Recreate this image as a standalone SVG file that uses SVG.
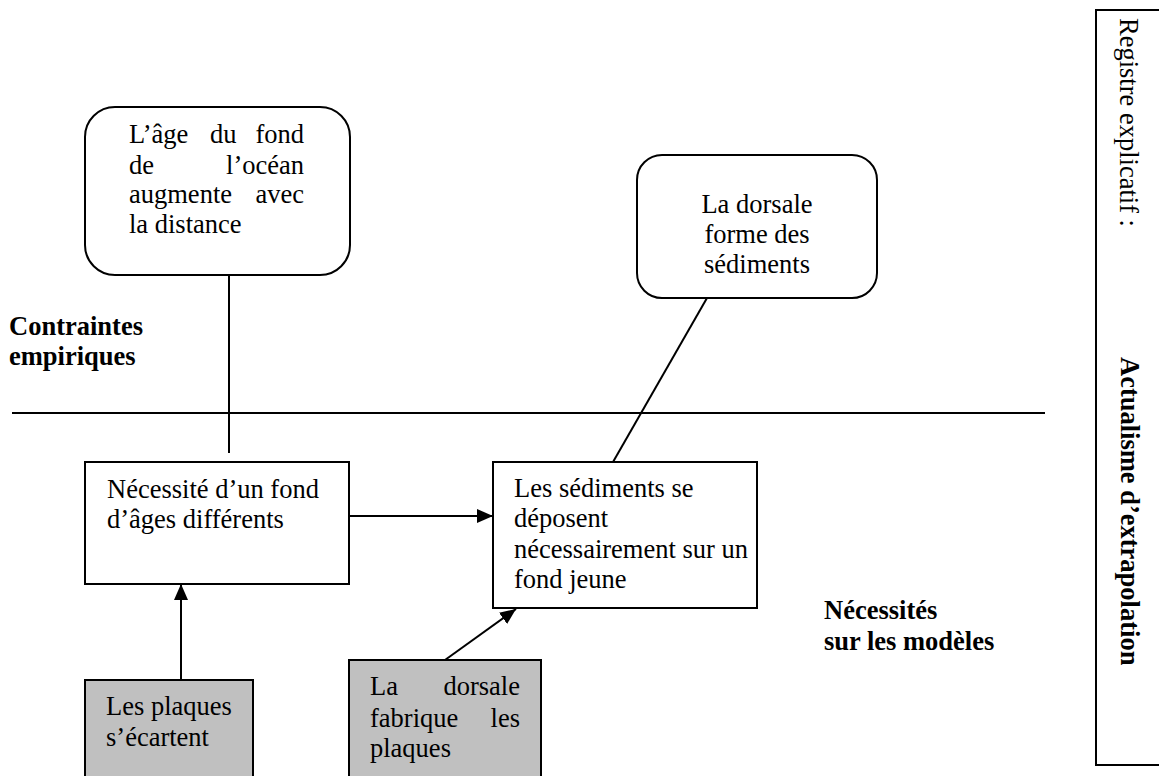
<svg xmlns="http://www.w3.org/2000/svg" width="1159" height="776" viewBox="0 0 1159 776">
  <style>
    .txt { font-family: "Liberation Serif", "Times New Roman", serif; font-size: 26.5px; fill: #000; }
    .bold { font-weight: bold; }
    .box { fill: #fff; stroke: #000; stroke-width: 2; }
    .grey { fill: #c0c0c0; stroke: #000; stroke-width: 2; }
    .link { stroke: #000; stroke-width: 2; fill: none; }
    .end { text-anchor: end; }
    .mid { text-anchor: middle; }
  </style>
  <defs>
    <marker id="arrow" viewBox="0 0 16 14" refX="16" refY="7" markerWidth="16" markerHeight="14" markerUnits="userSpaceOnUse" orient="auto">
      <path d="M0,0 L16,7 L0,14 Z" fill="#000"/>
    </marker>
  </defs>

  <rect width="1159" height="776" fill="#fff"/>

  <!-- separator between empirical constraints and model requirements -->
  <line x1="12" y1="413" x2="1045" y2="413" class="link"/>

  <!-- section labels -->
  <g id="label-contraintes">
    <text class="txt bold" x="9" y="335">Contraintes</text>
    <text class="txt bold" x="9" y="365">empiriques</text>
  </g>
  <g id="label-necessites">
    <text class="txt bold" x="824" y="619">Nécessités</text>
    <text class="txt bold" x="824" y="650">sur les modèles</text>
  </g>

  <!-- side register panel -->
  <g id="registre">
    <rect x="1096" y="10" width="70" height="755" fill="none" stroke="#000" stroke-width="2"/>
    <text class="txt" transform="translate(1120,18) rotate(90)">Registre explicatif :</text>
    <text class="txt bold" transform="translate(1121,357) rotate(90)">Actualisme d’extrapolation</text>
  </g>

  <!-- connectors -->
  <g id="connectors">
    <line x1="229" y1="275" x2="229" y2="453" class="link"/>
    <line x1="707" y1="298" x2="613" y2="462" class="link"/>
    <line x1="349" y1="516" x2="493" y2="516" class="link" marker-end="url(#arrow)"/>
    <line x1="181" y1="680" x2="181" y2="584" class="link" marker-end="url(#arrow)"/>
    <line x1="445" y1="660" x2="516" y2="609" class="link" marker-end="url(#arrow)"/>
  </g>

  <!-- empirical constraint: age of the ocean floor -->
  <g id="node-age">
    <rect x="85" y="107" width="265" height="168" rx="30" ry="30" class="box"/>
    <text class="txt" x="129" y="143">L’âge</text>
    <text class="txt" x="210" y="143">du</text>
    <text class="txt end" x="304" y="143">fond</text>
    <text class="txt" x="129" y="174">de</text>
    <text class="txt end" x="304" y="174">l’océan</text>
    <text class="txt" x="129" y="203">augmente</text>
    <text class="txt end" x="304" y="203">avec</text>
    <text class="txt" x="129" y="233">la distance</text>
  </g>

  <!-- empirical constraint: ridge and sediments -->
  <g id="node-dorsale">
    <rect x="637" y="155" width="240" height="143" rx="25" ry="25" class="box"/>
    <text class="txt mid" x="757" y="213">La dorsale</text>
    <text class="txt mid" x="757" y="243">forme des</text>
    <text class="txt mid" x="757" y="273">sédiments</text>
  </g>

  <!-- model requirement: different ages -->
  <g id="node-ages">
    <rect x="85" y="462" width="264" height="122" class="box"/>
    <text class="txt" x="107" y="498">Nécessité d’un fond</text>
    <text class="txt" x="107" y="528">d’âges différents</text>
  </g>

  <!-- model requirement: sediments on young floor -->
  <g id="node-sediments">
    <rect x="493" y="462" width="264" height="146" class="box"/>
    <text class="txt" x="514" y="497">Les sédiments se</text>
    <text class="txt" x="514" y="527">déposent</text>
    <text class="txt" x="514" y="558">nécessairement sur un</text>
    <text class="txt" x="514" y="588">fond jeune</text>
  </g>

  <!-- model: spreading plates -->
  <g id="node-plaques">
    <rect x="85" y="680" width="168" height="110" class="grey"/>
    <text class="txt" x="106" y="715">Les plaques</text>
    <text class="txt" x="106" y="746">s’écartent</text>
  </g>

  <!-- model: ridge makes plates -->
  <g id="node-fabrique">
    <rect x="349" y="660" width="192" height="130" class="grey"/>
    <text class="txt" x="370" y="695">La</text>
    <text class="txt end" x="520" y="695">dorsale</text>
    <text class="txt" x="370" y="727">fabrique</text>
    <text class="txt end" x="520" y="727">les</text>
    <text class="txt" x="370" y="757">plaques</text>
  </g>
</svg>
